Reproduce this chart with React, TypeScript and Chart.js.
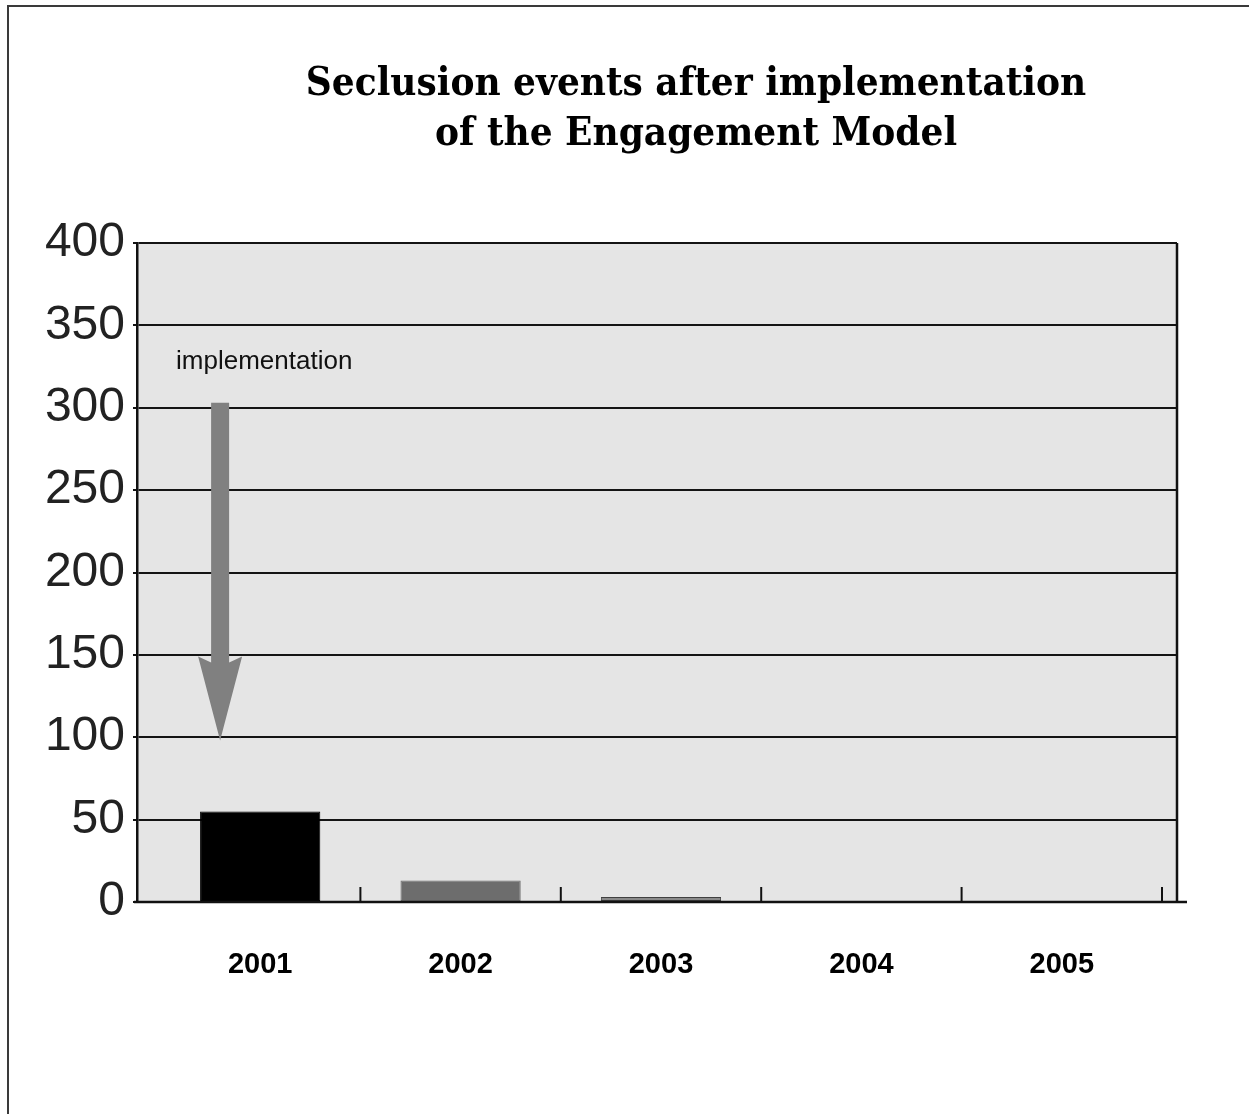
import { useEffect, useRef } from "react";
import { Chart, registerables } from "chart.js";

Chart.register(...registerables);

// Yearly seclusion counts
const years = ["2001", "2002", "2003", "2004", "2005"];
const seclusionEvents = [55, 13, 3, 0, 0];
const barFills = ["#000000", "#6d6d6d", "#8a8a8a", "#8a8a8a", "#8a8a8a"];
const barOutlines = ["#000000", "#6d6d6d", "#404040", "#404040", "#404040"];

// Value axis
const yMin = 0;
const yMax = 400;
const yStep = 50;

// Heading
const titleLines = ["Seclusion events after implementation", "of the Engagement Model"];

// "implementation" marker: label plus a downward arrow over the first year
const markerLabel = "implementation";
const markerLabelValue = 328;
const markerLabelIndex = 0.02;
const arrowIndex = -0.2;
const arrowTopValue = 303;
const arrowHeadValue = 149;
const arrowTipValue = 98;

const SANS = '"Liberation Sans", Arial, Helvetica, sans-serif';
const SERIF = '"DejaVu Serif Condensed", "DejaVu Serif", "Liberation Serif", serif';

// the year axis runs inside the plot panel, inset from its left and right edges
const YEAR_AXIS_INSET_LEFT = 23;
const YEAR_AXIS_INSET_RIGHT = 15;

const decorPlugin = {
  id: "decor",
  afterLayout(chart: any) {
    const xs = chart.scales.x;
    xs.left = chart.chartArea.left + YEAR_AXIS_INSET_LEFT;
    xs.right = chart.chartArea.right - YEAR_AXIS_INSET_RIGHT;
    xs.width = xs.right - xs.left;
    xs.configure();
  },
  beforeDraw(chart: any) {
    const { ctx, chartArea, width, height } = chart;
    ctx.save();
    ctx.fillStyle = "#ffffff";
    ctx.fillRect(0, 0, width, height);
    // page frame
    ctx.strokeStyle = "#3a3a3a";
    ctx.lineWidth = 2;
    ctx.beginPath();
    ctx.moveTo(8, height);
    ctx.lineTo(8, 6);
    ctx.lineTo(width, 6);
    ctx.stroke();
    // plot background
    ctx.fillStyle = "#e5e5e5";
    ctx.fillRect(chartArea.left, chartArea.top, chartArea.right - chartArea.left, chartArea.bottom - chartArea.top);
    ctx.restore();
  },
  afterDraw(chart: any) {
    const { ctx, chartArea } = chart;
    const xs = chart.scales.x;
    const ys = chart.scales.y;
    ctx.save();

    // right border of plot
    ctx.strokeStyle = "#111111";
    ctx.lineWidth = 2.5;
    ctx.beginPath();
    ctx.moveTo(chartArea.right, chartArea.top);
    ctx.lineTo(chartArea.right, chartArea.bottom);
    ctx.stroke();

    // baseline
    const y0 = ys.getPixelForValue(0);
    ctx.lineWidth = 2.5;
    ctx.beginPath();
    ctx.moveTo(chartArea.left - 3, y0);
    ctx.lineTo(chartArea.right + 10, y0);
    ctx.stroke();

    // short upward ticks between years
    ctx.lineWidth = 2;
    for (let i = 0; i < years.length; i++) {
      const px = xs.getPixelForValue(i + 0.5);
      ctx.beginPath();
      ctx.moveTo(px, y0);
      ctx.lineTo(px, y0 - 15);
      ctx.stroke();
    }

    // arrow
    const ax = xs.getPixelForValue(arrowIndex);
    const aTop = ys.getPixelForValue(arrowTopValue);
    const aHead = ys.getPixelForValue(arrowHeadValue);
    const aTip = ys.getPixelForValue(arrowTipValue);
    ctx.fillStyle = "#808080";
    ctx.beginPath();
    ctx.moveTo(ax - 9, aTop);
    ctx.lineTo(ax - 9, aHead + 6);
    ctx.lineTo(ax - 22, aHead);
    ctx.lineTo(ax, aTip);
    ctx.lineTo(ax + 22, aHead);
    ctx.lineTo(ax + 9, aHead + 6);
    ctx.lineTo(ax + 9, aTop);
    ctx.closePath();
    ctx.fill();

    // marker label
    ctx.fillStyle = "#111111";
    ctx.font = `26px ${SANS}`;
    ctx.textAlign = "center";
    ctx.textBaseline = "middle";
    ctx.fillText(markerLabel, xs.getPixelForValue(markerLabelIndex), ys.getPixelForValue(markerLabelValue));

    // heading
    ctx.fillStyle = "#000000";
    ctx.font = `bold 40px ${SERIF}`;
    ctx.textBaseline = "alphabetic";
    ctx.fillText(titleLines[0], 696, 95);
    ctx.fillText(titleLines[1], 696, 145);

    ctx.restore();
  },
};

export default function App() {
  const canvasRef = useRef<HTMLCanvasElement | null>(null);

  useEffect(() => {
    if (!canvasRef.current) return;
    const chart = new Chart(canvasRef.current, {
      type: "bar",
      data: {
        labels: years,
        datasets: [
          {
            data: seclusionEvents,
            backgroundColor: barFills,
            borderColor: barOutlines,
            borderWidth: 1,
            borderSkipped: false,
            barPercentage: 0.6,
            categoryPercentage: 1,
          },
        ],
      },
      options: {
        animation: false,
        responsive: true,
        maintainAspectRatio: false,
        layout: { padding: { top: 243, right: 72, left: 0, bottom: 0 } },
        plugins: {
          legend: { display: false },
          title: { display: false },
          tooltip: { enabled: false },
        },
        scales: {
          x: {
            type: "category",
            offset: true,
            grid: { display: false, drawTicks: false },
            border: { display: false },
            ticks: {
              color: "#000000",
              padding: 46,
              font: { family: SANS, size: 29, weight: "bold" },
            },
            afterFit(scale: any) {
              scale.height = 212;
            },
          },
          y: {
            min: yMin,
            max: yMax,
            grid: { color: "#141414", lineWidth: 2, drawTicks: true, tickLength: 4 },
            border: { display: true, color: "#111111", width: 2.5 },
            ticks: {
              stepSize: yStep,
              color: "#222222",
              padding: 8,
              font: { family: SANS, size: 48 },
            },
            afterFit(scale: any) {
              scale.width = 137;
            },
          },
        },
      },
      plugins: [decorPlugin],
    });
    return () => chart.destroy();
  }, []);

  return (
    <div style={{ position: "absolute", left: 0, top: 0, width: 1249, height: 1114, background: "#ffffff" }}>
      <canvas ref={canvasRef} />
    </div>
  );
}
